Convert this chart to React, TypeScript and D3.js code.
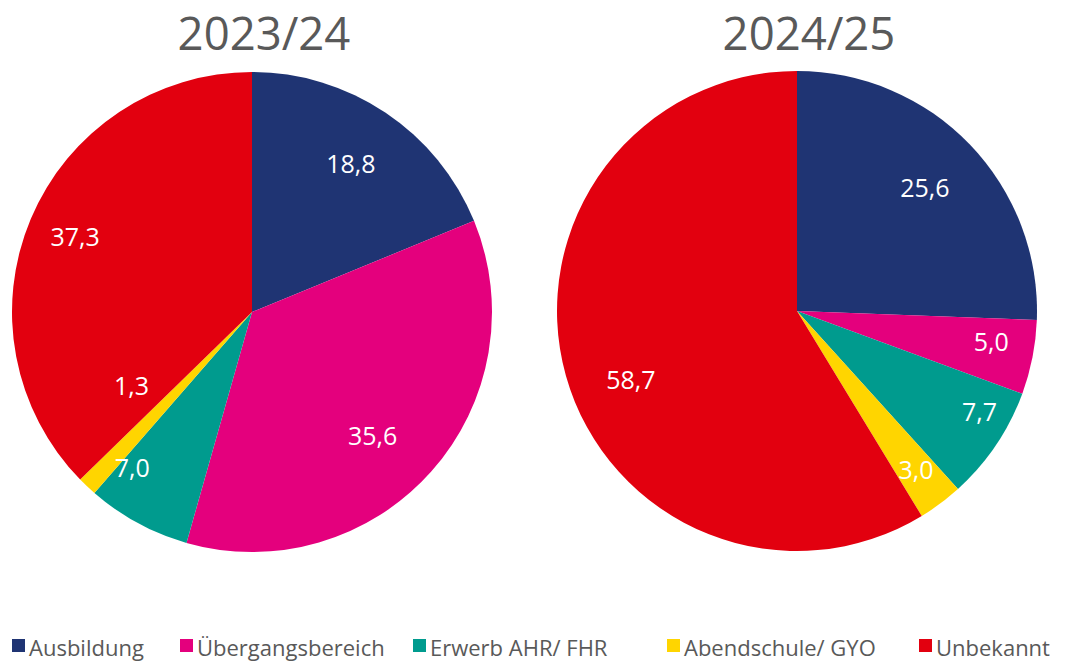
import { useEffect, useRef } from 'react'
import * as d3 from 'd3'

// Anteile in Prozent, im Uhrzeigersinn ab 12 Uhr
const categories = ['Ausbildung', 'Übergangsbereich', 'Erwerb AHR/ FHR', 'Abendschule/ GYO', 'Unbekannt']
const colours = ['#1f3473', '#e4007d', '#009b8e', '#ffd500', '#e2000f']
const years = ['2023/24', '2024/25']
const values2023 = [18.8, 35.6, 7.0, 1.3, 37.3]
const values2024 = [25.6, 5.0, 7.7, 3.0, 58.7]

const FONT = '"Open Sans", sans-serif'
const GREY = '#595959'

function App() {
  const svgRef = useRef<SVGSVGElement | null>(null)

  useEffect(() => {
    const width = 1065
    const height = 661
    const svg = d3.select(svgRef.current)
      .attr('width', width)
      .attr('height', height)
      .style('display', 'block')

    svg.selectAll('*').remove()

    const radius = 240
    const pies = [
      { title: years[0], values: values2023, cx: 252, cy: 312 },
      { title: years[1], values: values2024, cx: 797, cy: 311 },
    ]

    // label placement: [share of outer radius, angle shift in degrees] — mimics Excel's best fit
    const labelPlace: Record<string, [number, number][]> = {
      '2023/24': [[0.74, 0], [0.72, 4], [0.82, 9], [0.59, 15], [0.8, 0]],
      '2024/25': [[0.74, 0], [0.82, -2], [0.87, -5], [0.83, 0], [0.75, -7]],
    }

    const pie = d3.pie<number>().sort(null).value(d => d)
    const arc = d3.arc<d3.PieArcDatum<number>>().innerRadius(0).outerRadius(radius)
    const fmt = (v: number) => v.toFixed(1).replace('.', ',')

    pies.forEach(p => {
      const g = svg.append('g').attr('transform', `translate(${p.cx},${p.cy})`)
      const arcs = pie(p.values)

      g.selectAll('path')
        .data(arcs)
        .join('path')
        .attr('d', arc)
        .attr('fill', (_, i) => colours[i])

      g.selectAll('text.val')
        .data(arcs)
        .join('text')
        .attr('class', 'val')
        .attr('transform', (d, i) => {
          const [f, shift] = labelPlace[p.title][i]
          const r = radius * f
          const a = (d.startAngle + d.endAngle) / 2 + shift * Math.PI / 180
          return `translate(${Math.sin(a) * r},${-Math.cos(a) * r})`
        })
        .attr('text-anchor', 'middle')
        .attr('dy', '0.35em')
        .attr('fill', '#fff')
        .style('font-family', FONT)
        .style('font-size', '25px')
        .text(d => fmt(d.data))

      svg.append('text')
        .attr('x', p.cx + 12)
        .attr('y', 49.5)
        .attr('text-anchor', 'middle')
        .attr('fill', GREY)
        .style('font-family', FONT)
        .style('font-size', '45.5px')
        .text(p.title)
    })

    // ── Legend ─────────────────────────────────────────────
    const legendX = [12, 180, 413, 667, 919]
    const legend = svg.append('g')
    categories.forEach((c, i) => {
      legend.append('rect')
        .attr('x', legendX[i])
        .attr('y', 639)
        .attr('width', 13)
        .attr('height', 13)
        .attr('fill', colours[i])
      legend.append('text')
        .attr('x', legendX[i] + 17)
        .attr('y', 656)
        .attr('fill', GREY)
        .style('font-family', FONT)
        .style('font-size', '22px')
        .text(c)
    })
  }, [])

  return (
    <div style={{ position: 'absolute', left: 0, top: 0, background: '#fff' }}>
      <svg ref={svgRef} />
    </div>
  )
}

export default App
